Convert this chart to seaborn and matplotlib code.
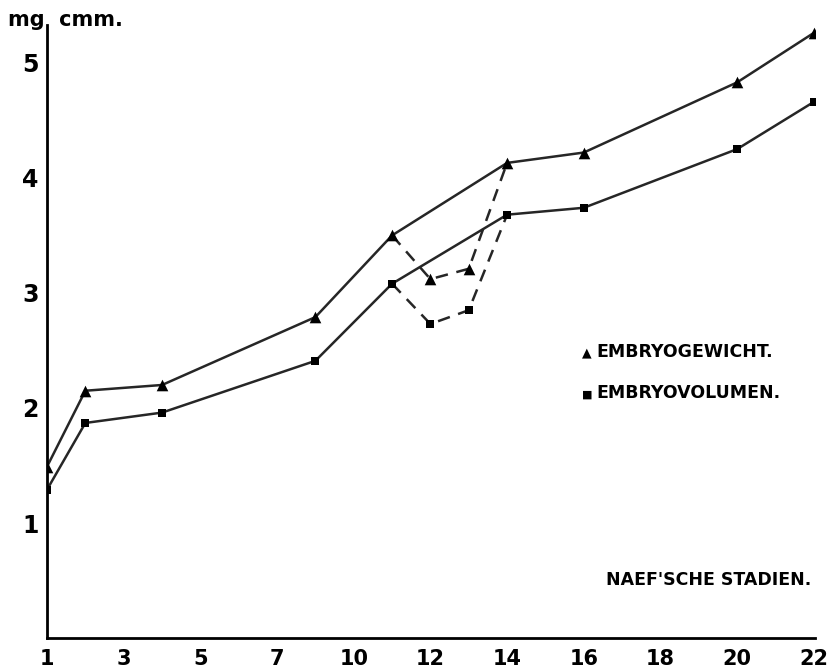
import numpy as np
import pandas as pd
import matplotlib
matplotlib.use("Agg")
import matplotlib.pyplot as plt
import seaborn as sns

# Tick stages on the x axis (equally spaced on the drawing)
tick_stages = [1, 3, 5, 7, 10, 12, 14, 16, 18, 20, 22]
tick_labels = ["1", "3", "5", "7", "10", "12", "14", "16", "18", "20", "22"]
y_ticks = [1, 2, 3, 4, 5]

# Data (Naef'sche Stadien)
stages = [1, 2, 4, 8.5, 11, 12, 13, 14, 16, 20, 22]
gewicht = [1.49, 2.15, 2.20, 2.79, 3.50, 3.12, 3.21, 4.13, 4.22, 4.83, 5.26]   # mg
volumen = [1.29, 1.87, 1.96, 2.41, 3.08, 2.73, 2.85, 3.68, 3.74, 4.25, 4.66]   # cmm
dashed_stages = [11, 12, 13, 14]
solid_stages = [1, 2, 4, 8.5, 11, 14, 16, 20, 22]

sns.set_theme(style="white")
plt.rcParams["font.family"] = ["DejaVu Sans"]
plt.rcParams["text.color"] = "black"
plt.rcParams["xtick.color"] = "black"
plt.rcParams["ytick.color"] = "black"

df = pd.DataFrame({"stage": stages, "Embryogewicht": gewicht, "Embryovolumen": volumen})
# ordinal axis scale: stage -> drawing position
df["pos"] = np.interp(df["stage"], tick_stages, np.arange(len(tick_stages)))

fig = plt.figure(figsize=(8.32, 6.71), dpi=100)
ax = fig.add_axes([0.0565, 0.049, 0.9235, 0.914])

ink = "#262626"
solid = df[df["stage"].isin(solid_stages)]
dashed = df[df["stage"].isin(dashed_stages)]

for col in ["Embryogewicht", "Embryovolumen"]:
    sns.lineplot(data=solid, x="pos", y=col, sort=False, ax=ax, color=ink, lw=1.8, estimator=None)
    sns.lineplot(data=dashed, x="pos", y=col, sort=False, ax=ax, color=ink, lw=1.8,
                 estimator=None, linestyle=(0, (5, 3.5)))

sns.scatterplot(data=df, x="pos", y="Embryogewicht", marker="^", s=70, color="black",
                edgecolor="black", linewidth=0, ax=ax, zorder=5)
sns.scatterplot(data=df, x="pos", y="Embryovolumen", marker="s", s=40, color="black",
                edgecolor="black", linewidth=0, ax=ax, zorder=5)

ax.set_xlim(0, 10.02)
ax.set_ylim(0, 5.33)
ax.set_xticks(np.arange(len(tick_stages)))
ax.set_xticklabels(tick_labels, fontsize=15, fontweight="bold")
ax.set_yticks(y_ticks)
ax.set_yticklabels([str(v) for v in y_ticks], fontsize=17, fontweight="bold")
ax.tick_params(axis="x", direction="in", length=20, width=1.3, color="black", pad=8)
ax.tick_params(axis="y", direction="in", length=15, width=1.0, color="black", pad=6)
ax.set_xlabel("")
ax.set_ylabel("")
for s in ["top", "right"]:
    ax.spines[s].set_visible(False)
for s in ["left", "bottom"]:
    ax.spines[s].set_color("black")
    ax.spines[s].set_linewidth(2.0)

fig.text(0.01, 0.97, "mg  cmm.", fontsize=15, fontweight="bold", ha="left", va="center")
fig.text(0.975, 0.135, "NAEF'SCHE STADIEN.", fontsize=12.5, fontweight="bold", ha="right", va="center")
fig.text(0.70, 0.474, "\u25B2", fontsize=9, ha="left", va="center")
fig.text(0.717, 0.475, "EMBRYOGEWICHT.", fontsize=12.5, fontweight="bold", ha="left", va="center")
fig.text(0.70, 0.412, "\u25A0", fontsize=8, ha="left", va="center")
fig.text(0.717, 0.414, "EMBRYOVOLUMEN.", fontsize=12.5, fontweight="bold", ha="left", va="center")

fig.savefig("out.png", dpi=100, facecolor="white")
